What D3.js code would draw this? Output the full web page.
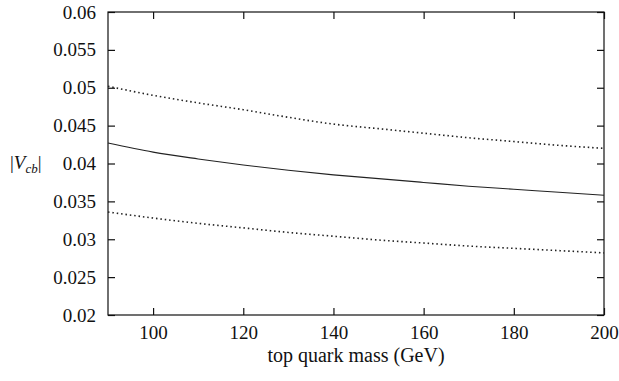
<!DOCTYPE html>
<html>
<head>
<meta charset="utf-8">
<script src="https://cdn.jsdelivr.net/npm/d3@7"></script>
<style>
  body { margin: 0; background: #fff; }
</style>
</head>
<body>
<div id="chart"></div>
<script>
const width = 619;
const height = 381;
const serif = '"Liberation Serif", "DejaVu Serif", serif';

// top quark mass (GeV)
const masses = [90, 100, 110, 120, 130, 140, 150, 160, 170, 180, 190, 200];
// |Vcb| central value and upper / lower bounds
const central = [0.0427, 0.0415, 0.0406, 0.0398, 0.0391, 0.0385, 0.0380, 0.0375, 0.0370, 0.0366, 0.0362, 0.0358];
const upper = [0.0502, 0.0490, 0.0480, 0.0471, 0.0461, 0.0452, 0.0446, 0.0440, 0.0434, 0.0429, 0.0424, 0.0420];
const lower = [0.0336, 0.0328, 0.0321, 0.0315, 0.0309, 0.0304, 0.0299, 0.0295, 0.0291, 0.0288, 0.0285, 0.0282];

const xTicks = [100, 120, 140, 160, 180, 200];
const yTicks = [0.02, 0.025, 0.03, 0.035, 0.04, 0.045, 0.05, 0.055, 0.06];

const margin = { top: 12, right: 15, bottom: 66, left: 108 };

const svg = d3.select('#chart')
  .append('svg')
  .attr('width', width)
  .attr('height', height);

const x = d3.scaleLinear().domain([90, 200]).range([margin.left, width - margin.right]);
const y = d3.scaleLinear().domain([0.02, 0.06]).range([height - margin.bottom, margin.top]);

const fmt = d => String(+d.toFixed(3));
const tickLen = 7;

// bottom axis with labels, ticks pointing inward
svg.append('g')
  .attr('transform', `translate(0,${y(0.02)})`)
  .call(d3.axisBottom(x).tickValues(xTicks).tickSizeInner(-tickLen).tickSizeOuter(0).tickPadding(11).tickFormat(d3.format('d')))
  .call(g => g.select('.domain').remove())
  .call(g => g.attr('font-family', serif).attr('font-size', 19))
  .call(g => g.selectAll('text').attr('fill', '#111'));

// top axis, ticks only
svg.append('g')
  .attr('transform', `translate(0,${y(0.06)})`)
  .call(d3.axisTop(x).tickValues(xTicks).tickSizeInner(-tickLen).tickSizeOuter(0).tickFormat(''))
  .call(g => g.select('.domain').remove());

// left axis with labels
svg.append('g')
  .attr('transform', `translate(${x(90)},0)`)
  .call(d3.axisLeft(y).tickValues(yTicks).tickSizeInner(-tickLen).tickSizeOuter(0).tickPadding(12).tickFormat(fmt))
  .call(g => g.select('.domain').remove())
  .call(g => g.attr('font-family', serif).attr('font-size', 19))
  .call(g => g.selectAll('text').attr('fill', '#111'));

// right axis, ticks only
svg.append('g')
  .attr('transform', `translate(${x(200)},0)`)
  .call(d3.axisRight(y).tickValues(yTicks).tickSizeInner(-tickLen).tickSizeOuter(0).tickFormat(''))
  .call(g => g.select('.domain').remove());

// frame
svg.append('rect')
  .attr('x', x(90))
  .attr('y', y(0.06))
  .attr('width', x(200) - x(90))
  .attr('height', y(0.02) - y(0.06))
  .attr('fill', 'none')
  .attr('stroke', '#111')
  .attr('stroke-width', 1.2);

svg.selectAll('.tick line').attr('stroke', '#111').attr('stroke-width', 1.2);

const line = d3.line()
  .x((d, i) => x(masses[i]))
  .y(d => y(d))
  .curve(d3.curveMonotoneX);

svg.append('path')
  .attr('d', line(central))
  .attr('fill', 'none')
  .attr('stroke', '#222')
  .attr('stroke-width', 1.1);

[upper, lower].forEach(series => {
  svg.append('path')
    .attr('d', line(series))
    .attr('fill', 'none')
    .attr('stroke', '#222')
    .attr('stroke-width', 1.6)
    .attr('stroke-dasharray', '1.5,2.9');
});

// axis titles
svg.append('text')
  .attr('x', (x(90) + x(200)) / 2)
  .attr('y', 362)
  .attr('text-anchor', 'middle')
  .attr('font-family', serif)
  .attr('font-size', 20)
  .attr('fill', '#111')
  .text('top quark mass (GeV)');

const yl = svg.append('text')
  .attr('x', 10)
  .attr('y', 169)
  .attr('font-family', serif)
  .attr('font-size', 19)
  .attr('fill', '#111');
yl.append('tspan').text('|');
yl.append('tspan').attr('font-style', 'italic').text('V');
yl.append('tspan').attr('font-style', 'italic').attr('font-size', 13).attr('dy', 4).text('cb');
yl.append('tspan').attr('dy', -4).text('|');
</script>
</body>
</html>
